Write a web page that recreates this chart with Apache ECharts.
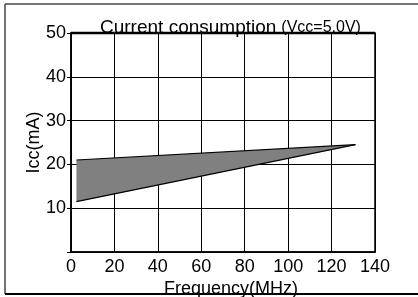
<!DOCTYPE html>
<html>
<head>
<meta charset="utf-8">
<script src="https://cdn.jsdelivr.net/npm/echarts@6/dist/echarts.min.js"></script>
<style>html,body{margin:0;padding:0;background:#fff}#c{width:418px;height:297px}</style>
</head>
<body>
<div id="c"></div>
<script>
// Data
var xTicks = [0, 20, 40, 60, 80, 100, 120, 140];
var yTicks = [10, 20, 30, 40, 50];
// Operating region polygon (Frequency MHz, Icc mA)
var regionFreq = [2.5, 2.5, 131];
var regionIcc = [11.5, 21, 24.5];
// Upper and lower boundary lines
var upperFreq = [2.5, 131];
var upperIcc = [21, 24.5];
var lowerFreq = [2.5, 131];
var lowerIcc = [11.5, 24.5];

var chart = echarts.init(document.getElementById('c'), null, {renderer: 'canvas'});
var FONT = 'Liberation Sans, Arial, sans-serif';

var polyData = regionFreq.map(function (f, i) { return [f, regionIcc[i]]; });
var upperData = upperFreq.map(function (f, i) { return [f, upperIcc[i]]; });
var lowerData = lowerFreq.map(function (f, i) { return [f, lowerIcc[i]]; });

chart.setOption({
  animation: false,
  backgroundColor: '#fff',
  title: {
    text: '{a|Current consumption} {b|(Vcc=5.0V)}',
    left: 95,
    top: 12,
    textStyle: {
      fontWeight: 'normal',
      rich: {
        a: {fontFamily: FONT, fontSize: 19, fontWeight: 'normal', color: '#000', lineHeight: 22},
        b: {fontFamily: FONT, fontSize: 16, fontWeight: 'normal', color: '#000', lineHeight: 22}
      }
    }
  },
  grid: {
    left: 71, right: 43, top: 33, bottom: 45,
    outerBoundsMode: 'none', containLabel: false,
    show: true, borderColor: '#000', borderWidth: 1.5, backgroundColor: 'transparent'
  },
  xAxis: {
    type: 'value', min: 0, max: 140, interval: 20,
    axisLine: {show: true, lineStyle: {color: '#000', width: 1.5}},
    axisTick: {show: false},
    splitLine: {show: true, lineStyle: {color: '#000', width: 1}},
    axisLabel: {color: '#000', fontFamily: FONT, fontSize: 18, margin: 6},
    name: 'Frequency(MHz)', nameLocation: 'middle', nameGap: 28, nameMoveOverlap: false,
    nameTextStyle: {color: '#000', fontFamily: FONT, fontSize: 18, padding: [0, 0, 0, 16]}
  },
  yAxis: {
    type: 'value', min: 0, max: 50, interval: 10,
    axisLine: {show: true, lineStyle: {color: '#000', width: 1.5}},
    axisTick: {show: true, length: 4, lineStyle: {color: '#000'}},
    splitLine: {show: true, lineStyle: {color: '#000', width: 1}},
    axisLabel: {
      color: '#000', fontFamily: FONT, fontSize: 18, margin: 5,
      formatter: function (v) { return yTicks.indexOf(v) >= 0 ? String(v) : ''; }
    },
    name: 'Icc(mA)', nameLocation: 'middle', nameGap: 28, nameMoveOverlap: false,
    nameTextStyle: {color: '#000', fontFamily: FONT, fontSize: 18, padding: [0, 0, 0, 0]}
  },
  graphic: [
    {type: 'line', shape: {x1: 5, y1: 4, x2: 418, y2: 4}, style: {stroke: '#444', lineWidth: 1.5}, silent: true},
    {type: 'line', shape: {x1: 5, y1: 4, x2: 5, y2: 294}, style: {stroke: '#444', lineWidth: 1.5}, silent: true},
    {type: 'line', shape: {x1: 5, y1: 294, x2: 418, y2: 294}, style: {stroke: '#000', lineWidth: 2}, silent: true},
    {type: 'line', shape: {x1: 71, y1: 33, x2: 375, y2: 33}, style: {stroke: '#000', lineWidth: 2.5}, silent: true, z: 10}
  ],
  series: [
    {
      type: 'custom',
      data: [0],
      renderItem: function (params, api) {
        var pts = polyData.map(function (p) { return api.coord(p); });
        return {type: 'polygon', shape: {points: pts}, style: {fill: '#808080', stroke: null}};
      },
      silent: true,
      z: 3
    },
    {
      type: 'line', data: upperData, symbol: 'none',
      lineStyle: {color: '#000', width: 1.2}, silent: true, z: 4
    },
    {
      type: 'line', data: lowerData, symbol: 'none',
      lineStyle: {color: '#000', width: 1.2}, silent: true, z: 4
    }
  ]
});
</script>
</body>
</html>
